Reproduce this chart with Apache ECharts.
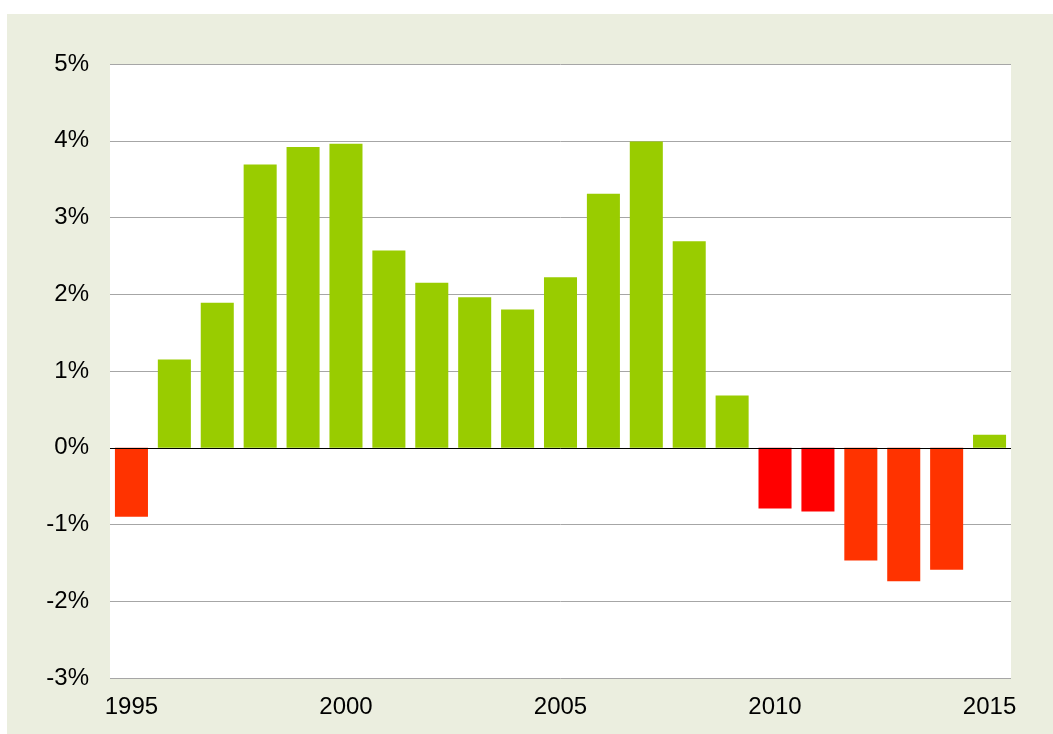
<!DOCTYPE html>
<html lang="en">
<head>
    <meta charset="UTF-8">
    <title>Annual change 1995-2015</title>
    <script src="https://cdn.jsdelivr.net/npm/echarts@6/dist/echarts.min.js"></script>
    <style>
        body { margin: 0; background: #fff; }
        #container { position: absolute; left: 7px; top: 14px; width: 1046px; height: 720px; }
    </style>
</head>
<body>
    <div id="container"></div>
    <script>
        // years on the x axis
        var years = ['1995', '1996', '1997', '1998', '1999', '2000', '2001', '2002', '2003', '2004',
            '2005', '2006', '2007', '2008', '2009', '2010', '2011', '2012', '2013', '2014', '2015'];
        // yearly change in %
        var changes = [-0.90, 1.15, 1.89, 3.69, 3.92, 3.96, 2.57, 2.15, 1.96, 1.80,
            2.22, 3.31, 3.99, 2.69, 0.68, -0.79, -0.83, -1.47, -1.74, -1.59, 0.17];
        // y axis range
        var yTicks = [-3, -2, -1, 0, 1, 2, 3, 4, 5];

        var myChart = echarts.init(document.getElementById('container'));
        myChart.setOption({
            backgroundColor: '#EBEEDF',
            textStyle: { fontFamily: 'Liberation Sans, Arial, sans-serif' },
            grid: {
                left: 103, right: 42, top: 50, bottom: 56,
                show: true, backgroundColor: '#fff', borderWidth: 0
            },
            xAxis: {
                type: 'category',
                data: years,
                axisLine: { show: false, onZero: false },
                axisTick: { show: false },
                axisLabel: {
                    color: '#000', fontSize: 24, margin: 17,
                    interval: function (idx, val) { return Number(val) % 5 === 0; }
                }
            },
            yAxis: {
                type: 'value',
                min: yTicks[0],
                max: yTicks[yTicks.length - 1],
                interval: 1,
                axisLine: { show: false },
                axisTick: { show: false },
                axisLabel: { color: '#000', fontSize: 24, margin: 21, formatter: '{value}%' },
                splitLine: { lineStyle: { color: '#a6a6a6', width: 1 } }
            },
            series: [{
                type: 'bar',
                data: changes,
                barCategoryGap: '23%',
                itemStyle: {
                    color: function (p) {
                        if (p.value >= 0) return '#99CC00';
                        // 2010 and 2011 are a brighter red
                        if (p.name === '2010' || p.name === '2011') return '#FF0000';
                        return '#FF3300';
                    }
                },
                markLine: {
                    silent: true,
                    symbol: 'none',
                    label: { show: false },
                    lineStyle: { color: '#000', width: 1, type: 'solid' },
                    data: [{ yAxis: 0 }]
                }
            }]
        });
    </script>
</body>
</html>
